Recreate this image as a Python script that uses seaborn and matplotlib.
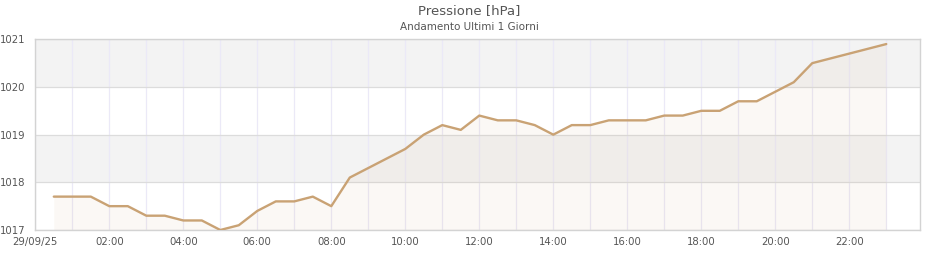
import matplotlib
matplotlib.use("Agg")
import matplotlib.pyplot as plt
import seaborn as sns
import pandas as pd
import numpy as np

# Data: half-hourly pressure readings (hours since 29/09/25 00:00)
hours = [0.5, 1.0, 1.5, 2.0, 2.5, 3.0, 3.5, 4.0, 4.5, 5.0, 5.5, 6.0, 6.5, 7.0, 7.5,
         8.0, 8.5, 9.0, 9.5, 10.0, 10.5, 11.0, 11.5, 12.0, 12.5, 13.0, 13.5, 14.0,
         14.5, 15.0, 15.5, 16.0, 16.5, 17.0, 17.5, 18.0, 18.5, 19.0, 19.5, 20.0,
         20.5, 21.0, 21.5, 22.0, 22.5, 23.0]
pressure = [1017.7, 1017.7, 1017.7, 1017.5, 1017.5, 1017.3, 1017.3, 1017.2, 1017.2,
            1017.0, 1017.1, 1017.4, 1017.6, 1017.6, 1017.7,
            1017.5, 1018.1, 1018.3, 1018.5, 1018.7, 1019.0, 1019.2, 1019.1, 1019.4,
            1019.3, 1019.3, 1019.2, 1019.0, 1019.2, 1019.2, 1019.3,
            1019.3, 1019.3, 1019.4, 1019.4, 1019.5, 1019.5, 1019.7, 1019.7, 1019.9,
            1020.1, 1020.5, 1020.6, 1020.7, 1020.8, 1020.9]
xtick_pos = [0, 2, 4, 6, 8, 10, 12, 14, 16, 18, 20, 22]
xtick_labels = ["29/09/25", "02:00", "04:00", "06:00", "08:00", "10:00", "12:00",
                "14:00", "16:00", "18:00", "20:00", "22:00"]
ytick_vals = [1017, 1018, 1019, 1020, 1021]
title = "Pressione [hPa]"
subtitle = "Andamento Ultimi 1 Giorni"

df = pd.DataFrame({"ora": hours, "hPa": pressure})

sns.set_theme(style="white")
plt.rcParams["font.family"] = ["DejaVu Sans"]

fig = plt.figure(figsize=(9.4, 2.6), dpi=100)
ax = fig.add_axes([35.3 / 940, 1 - 230 / 260, (920.3 - 35.3) / 940, (230 - 39.3) / 260])

# alternating bands
for i in range(len(ytick_vals) - 1):
    if i % 2 == 1:
        ax.axhspan(ytick_vals[i], ytick_vals[i + 1], color="#f3f3f3", zorder=0, lw=0)

# grids
for h in range(0, 24):
    ax.axvline(h, color="#ebe9f7", lw=0.9, zorder=1)
for v in ytick_vals:
    ax.axhline(v, color="#dcdcdc", lw=0.9, zorder=1)

line_color = "#c9a274"
ax.fill_between(df["ora"], df["hPa"], 1017, color=line_color, alpha=0.07, lw=0, zorder=2)
sns.lineplot(data=df, x="ora", y="hPa", ax=ax, color=line_color, lw=1.7, zorder=3)

ax.set_xlim(0, 23.92)
ax.set_ylim(1017, 1021)
ax.set_xticks(xtick_pos)
ax.set_xticklabels(xtick_labels)
ax.set_yticks(ytick_vals)
ax.set_yticklabels([str(v) for v in ytick_vals])
ax.tick_params(axis="both", length=0, labelsize=7.3, colors="#555555")
ax.tick_params(axis="y", pad=7)
ax.tick_params(axis="x", pad=5)
ax.set_xlabel("")
ax.set_ylabel("")
for s in ax.spines.values():
    s.set_color("#d3d3d3")
    s.set_linewidth(1.0)

fig.text(469 / 940, 1 - 10.5 / 260, title, ha="center", va="center", fontsize=9.5, color="#555555")
fig.text(469 / 940, 1 - 27 / 260, subtitle, ha="center", va="center", fontsize=7.5, color="#555555")

fig.savefig("out.png", dpi=100)
